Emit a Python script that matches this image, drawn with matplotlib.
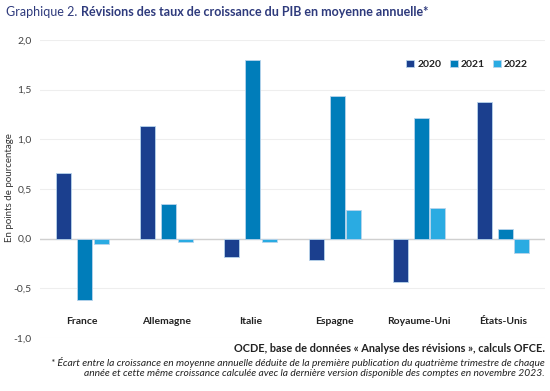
import matplotlib
matplotlib.use("Agg")
import matplotlib.pyplot as plt
import numpy as np

countries = ["France", "Allemagne", "Italie", "Espagne", "Royaume-Uni", "États-Unis"]
years = ["2020", "2021", "2022"]
v2020 = [0.66, 1.13, -0.18, -0.21, -0.44, 1.38]
v2021 = [-0.62, 0.35, 1.80, 1.44, 1.21, 0.10]
v2022 = [-0.05, -0.03, -0.03, 0.29, 0.31, -0.14]
yticks = [-1.0, -0.5, 0.0, 0.5, 1.0, 1.5, 2.0]
ytick_labels = ["-1,0", "-0,5", "0,0", "0,5", "1,0", "1,5", "2,0"]

plt.rcParams['font.family'] = ['Lato', 'DejaVu Sans']
colors = ["#1B3F8E", "#007DBA", "#2AABE2"]
offsets = [-0.25, 0.0, 0.195]
width = 0.178

fig = plt.figure(figsize=(5.5, 3.91), dpi=100)
ax = fig.add_axes([40/550, 1-338/391, 505/550, 298/391])

x = np.arange(len(countries))
for vals, c, off, lab in zip([v2020, v2021, v2022], colors, offsets, years):
    ax.bar(x + off, vals, width=width, color=c, edgecolor="#B8D4EC", linewidth=0.6, label=lab, zorder=3)

ax.set_xlim(-0.53, 5.47)
ax.set_ylim(-1.0, 2.0)
ax.set_yticks(yticks)
ax.set_yticklabels(ytick_labels, fontsize=7.5, color="#444444")
ax.set_xticks([])
ax.tick_params(axis='y', length=0, pad=6)
for s in ax.spines.values():
    s.set_visible(False)
ax.grid(axis='y', color="#EEEEEE", linewidth=0.8, zorder=0)
ax.axhline(0, color="#D0D0D0", linewidth=1.0, zorder=2)

for xi, name in zip(x, countries):
    ax.text(xi - 0.03, -0.83, name, ha='center', va='center', fontsize=7.5, fontweight='bold', color="#222222")

fig.text(10/550, 1-188/391, "En points de pourcentage", rotation=90, ha='center', va='center', fontsize=7, color="#333333")

leg = ax.legend(loc='upper right', bbox_to_anchor=(0.985, 0.965), ncol=3, frameon=False, fontsize=7.5,
                handlelength=0.75, handleheight=0.75, handletextpad=0.3, columnspacing=0.8)
for t in leg.get_texts():
    t.set_fontweight('bold')
    t.set_color("#222222")

t1 = fig.text(6/550, 1-12/391, "Graphique 2.", fontsize=9, color="#2E3A7C", va='center', ha='left')
fig.canvas.draw()
bb = t1.get_window_extent()
fig.text((bb.x1 + 4)/550, 1-12/391, "Révisions des taux de croissance du PIB en moyenne annuelle*", fontsize=9,
         fontweight='bold', color="#2E3A7C", va='center', ha='left')

fig.text(545/550, 1-349/391, "OCDE, base de données « Analyse des révisions », calculs OFCE.", fontsize=7.9,
         fontweight='bold', color="#222222", ha='right', va='center')
fig.text(545/550, 1-362/391, "* Écart entre la croissance en moyenne annuelle déduite de la première publication du quatrième trimestre de chaque",
         fontsize=7.4, style='italic', color="#222222", ha='right', va='center')
fig.text(545/550, 1-374/391, "année et cette même croissance calculée avec la dernière version disponible des comptes en novembre 2023.",
         fontsize=7.4, style='italic', color="#222222", ha='right', va='center')

fig.savefig("out.png", dpi=100)
